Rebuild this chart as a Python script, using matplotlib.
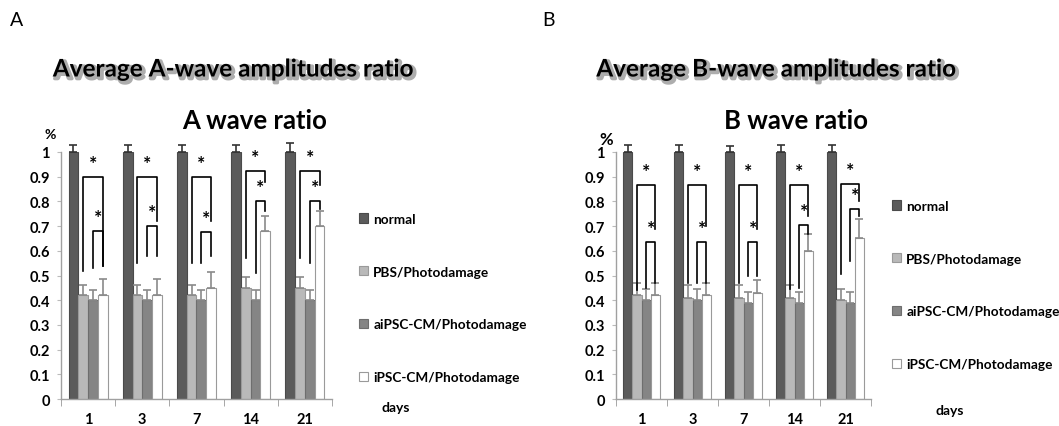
import matplotlib
matplotlib.use("Agg")
import matplotlib.pyplot as plt
import matplotlib.patheffects as pe
from matplotlib.patches import Patch
import numpy as np

plt.rcParams['font.family'] = ['Lato', 'DejaVu Sans']

# data
days = ['1', '3', '7', '14', '21']
groups = ['normal', 'PBS/Photodamage', 'aiPSC-CM/Photodamage', 'iPSC-CM/Photodamage']

a_normal = [1.0, 1.0, 1.0, 1.0, 1.0]
a_pbs = [0.42, 0.42, 0.42, 0.45, 0.45]
a_aipsc = [0.40, 0.40, 0.40, 0.40, 0.40]
a_ipsc = [0.42, 0.42, 0.45, 0.68, 0.70]
a_normal_err = [0.03, 0.03, 0.03, 0.03, 0.035]
a_pbs_err = [0.04, 0.04, 0.04, 0.045, 0.045]
a_aipsc_err = [0.04, 0.04, 0.04, 0.04, 0.04]
a_ipsc_err = [0.065, 0.065, 0.065, 0.06, 0.06]

b_normal = [1.0, 1.0, 1.0, 1.0, 1.0]
b_pbs = [0.42, 0.41, 0.41, 0.41, 0.40]
b_aipsc = [0.40, 0.40, 0.39, 0.39, 0.39]
b_ipsc = [0.42, 0.42, 0.43, 0.60, 0.65]
b_normal_err = [0.03, 0.03, 0.025, 0.03, 0.03]
b_pbs_err = [0.05, 0.05, 0.05, 0.05, 0.045]
b_aipsc_err = [0.045, 0.045, 0.045, 0.045, 0.045]
b_ipsc_err = [0.05, 0.05, 0.05, 0.07, 0.08]

# significance brackets: (big top, big left end, big right end, small top, small left end, small right end)
a_brackets = [(0.90, 0.52, 0.54, 0.68, 0.53, 0.54),
              (0.90, 0.55, 0.72, 0.70, 0.58, 0.58),
              (0.90, 0.55, 0.72, 0.675, 0.55, 0.58),
              (0.925, 0.57, 0.88, 0.80, 0.51, 0.76),
              (0.925, 0.57, 0.865, 0.80, 0.55, 0.77)]
b_brackets = [(0.865, 0.44, 0.69, 0.635, 0.45, 0.47),
              (0.865, 0.47, 0.70, 0.635, 0.47, 0.47),
              (0.865, 0.47, 0.69, 0.635, 0.50, 0.50),
              (0.865, 0.445, 0.74, 0.705, 0.45, 0.67),
              (0.87, 0.505, 0.80, 0.77, 0.56, 0.74)]

face_colors = ['#5b5b5b', '#b9b9b9', '#858585', '#ffffff']
edge_colors = ['#4a4a4a', '#9a9a9a', '#6e6e6e', '#9a9a9a']
err_colors = ['#333333', '#8a8a8a', '#8a8a8a', '#8a8a8a']
width = 0.18


def draw_panel(ax, series, errs, brackets):
    x = np.arange(len(days))
    offsets = (np.arange(4) - 1.5) * width
    for i, (vals, err) in enumerate(zip(series, errs)):
        ax.bar(x + offsets[i], vals, width, color=face_colors[i],
               edgecolor=edge_colors[i], linewidth=0.8, zorder=2)
        ax.errorbar(x + offsets[i], vals, yerr=[np.zeros(len(err)), err],
                    fmt='none', ecolor=err_colors[i], elinewidth=1.2,
                    capsize=3, capthick=1.2, clip_on=False, zorder=3)
    for g, (bt, bl, br, st, sl, sr) in enumerate(brackets):
        xl = g + offsets[1]
        xm = g + offsets[2]
        xr = g + offsets[3]
        ax.plot([xl, xl, xr, xr], [bl, bt, bt, br], color='black', lw=1.2, zorder=4)
        ax.plot([xm, xm, xr, xr], [sl, st, st, sr], color='black', lw=1.2, zorder=4)
        ax.text((xl + xr) / 2, bt + 0.02, '*', ha='center', va='bottom',
                fontsize=14, fontweight='bold')
        ax.text((xm + xr) / 2, st + 0.02, '*', ha='center', va='bottom',
                fontsize=14, fontweight='bold')

    ax.set_xlim(-0.5, len(days) - 0.5)
    ax.set_ylim(0, 1)
    ax.set_yticks(np.arange(0, 1.01, 0.1))
    ax.set_yticklabels(['0'] + [f'{v:.1f}' for v in np.arange(0.1, 0.95, 0.1)] + ['1'],
                       fontsize=10.5, fontweight='bold')
    ax.set_xticks(x)
    ax.set_xticklabels(days, fontsize=10.5, fontweight='bold')
    ax.set_xticks(np.arange(-0.5, len(days), 1), minor=True)
    ax.tick_params(axis='x', which='major', length=0, pad=9)
    ax.tick_params(axis='x', which='minor', length=5, color='#999999', direction='out')
    ax.tick_params(axis='y', length=3, color='#bbbbbb', pad=5)
    for s in ['top', 'right']:
        ax.spines[s].set_visible(False)
    for s in ['left', 'bottom']:
        ax.spines[s].set_color('#a0a0a0')
        ax.spines[s].set_linewidth(1.0)


fig = plt.figure(figsize=(10.59, 4.27), dpi=100)
ax_a = fig.add_axes([0.0576, 0.0632, 0.2559, 0.5785])
ax_b = fig.add_axes([0.5817, 0.0632, 0.2408, 0.5785])

draw_panel(ax_a, [a_normal, a_pbs, a_aipsc, a_ipsc],
           [a_normal_err, a_pbs_err, a_aipsc_err, a_ipsc_err], a_brackets)
draw_panel(ax_b, [b_normal, b_pbs, b_aipsc, b_ipsc],
           [b_normal_err, b_pbs_err, b_aipsc_err, b_ipsc_err], b_brackets)

shadow = [pe.SimpleLineShadow(offset=(1.5, -1.5), shadow_color='#777777', alpha=0.6, linewidth=2.5),
          pe.Normal()]

fig.text(17 / 1059, 1 - 20 / 427, 'A', fontsize=14, ha='center', va='center')
fig.text(548 / 1059, 1 - 20 / 427, 'B', fontsize=14, ha='center', va='center')

t1 = fig.text(233 / 1059, 1 - 70 / 427, 'Average A-wave amplitudes ratio', fontsize=17.5,
              fontweight='bold', ha='center', va='center')
t1.set_path_effects(shadow)
t2 = fig.text(776 / 1059, 1 - 70 / 427, 'Average B-wave amplitudes ratio', fontsize=17.5,
              fontweight='bold', ha='center', va='center')
t2.set_path_effects(shadow)

fig.text(255 / 1059, 1 - 121 / 427, 'A wave ratio', fontsize=18.5, fontweight='bold',
         ha='center', va='center')
fig.text(796 / 1059, 1 - 121 / 427, 'B wave ratio', fontsize=18.5, fontweight='bold',
         ha='center', va='center')

fig.text(50 / 1059, 1 - 135 / 427, '%', fontsize=10, fontweight='bold', ha='center', va='center')
fig.text(606 / 1059, 1 - 140 / 427, '%', fontsize=12, fontweight='bold', ha='center', va='center')

handles = [Patch(facecolor=face_colors[i], edgecolor=edge_colors[i], linewidth=0.8) for i in range(4)]
for hx, hy in [(359 / 1059, 1 - 299 / 427), (892 / 1059, 1 - 286 / 427)]:
    fig.legend(handles, groups, loc='center left', bbox_to_anchor=(hx, hy), frameon=False,
               prop={'size': 9.8, 'weight': 'bold'}, handlelength=0.65, handleheight=0.65,
               handletextpad=0.4, labelspacing=3.0, borderpad=0, borderaxespad=0)

fig.text(396 / 1059, 1 - 408 / 427, 'days', fontsize=10, fontweight='bold', ha='center', va='center')
fig.text(950 / 1059, 1 - 411 / 427, 'days', fontsize=10, fontweight='bold', ha='center', va='center')

fig.savefig('out.png', dpi=100)
